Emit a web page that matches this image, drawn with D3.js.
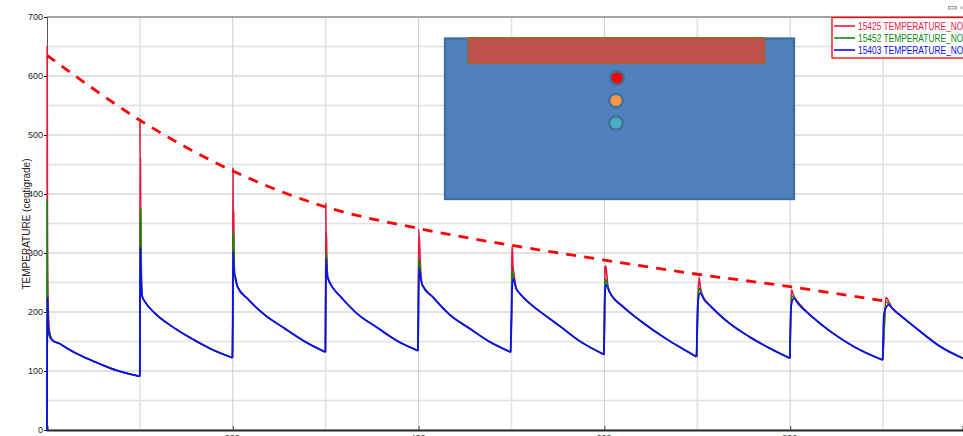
<!DOCTYPE html>
<html><head><meta charset="utf-8">
<script src="https://cdnjs.cloudflare.com/ajax/libs/d3/7.8.5/d3.min.js"></script>
<style>html,body{margin:0;padding:0;background:#fff;overflow:hidden}svg{display:block}text{font-family:"Liberation Sans",Arial,sans-serif}</style>
</head><body><svg id="c" width="963" height="436"></svg>
<script>
const xMajorTicks=[200,400,600,800];
const xMinorTicks=[100,300,500,700,900];
const yMajorTicks=[0,100,200,300,400,500,600,700];
const yMinorTicks=[50,150,250,350,450,550,650];
const seriesNames=["15425 TEMPERATURE_NODE","15452 TEMPERATURE_NODE","15403 TEMPERATURE_NODE"];
const seriesColors=["#e8173f","#0a8a12","#0a0aff"];
const dashedTrend=[[0,635],[100,525],[200,439],[300,378],[400,341.5],[500,313],[600,288],[700,264],[800,243],[900,219]];

// cooling tails, shared by the three nodes
const tails=[
 [[6,152],[14,146],[21,139],[39,124],[57,112],[75,101]],
 [[105.4,217.5],[116,198],[134,176],[155.6,155],[177,137]],
 [[216.5,221.5],[234.4,195],[256,172],[277.4,150]],
 [[309.7,237],[316,226],[334,197],[356,173],[377,151]],
 [[415.5,225],[433,196],[455,172],[476,150]],
 [[520,214],[540,190],[552,176],[573,151]],
 [[620,209],[638,186],[667,154],[685,137]],
 [[713,212],[734.4,181],[756,158],[778,138.5]],
 [[825,190],[845,165],[870,140]],
 [[918,195],[940,167],[961,142],[986,121.5]]
];
// heating spikes, one list per cycle and node
const spikes15425=[
 [[0,0],[0.2,650],[0.5,300],[1.5,200],[3,165]],
 [[99.9,91],[100.1,525],[100.2,460],[100.6,460],[100.9,375],[101.5,280],[102.6,226]],
 [[199.6,122.5],[199.9,240],[200.2,445],[200.4,370],[201,370],[201.3,300],[202.2,262],[205,243]],
 [[299.7,132],[300.1,385],[300.3,335],[300.9,335],[301.2,290],[302.5,257],[306,245]],
 [[399.3,134.5],[400.1,340],[401.5,300],[402,280],[404,246]],
 [[499,132],[500.1,200],[500.3,310],[501,310],[501.5,280],[503,262],[505,240],[508.6,232]],
 [[599.5,128],[600.3,200],[600.5,276],[601.5,278],[602.5,265],[604,240],[605.5,234]],
 [[699.2,124],[700.5,215],[701.9,259],[703.5,240],[707,224]],
 [[799.7,121.5],[800.3,180],[801.5,238],[803,230],[808,218]],
 [[899.5,118.6],[900.4,140],[903,225],[906,218],[910,206]]
];
const spikes15452=[
 [[0,0],[0.2,390],[0.5,240],[1.5,180],[3,162]],
 [[99.9,91],[100.2,375],[100.8,375],[101.2,280],[102.6,226]],
 [[199.6,122.5],[200,170],[200.3,335],[200.9,335],[201.4,275],[202.2,262],[205,243]],
 [[299.7,132],[300.2,300],[300.9,300],[301.4,270],[302.5,257],[306,245]],
 [[399.3,134.5],[400.2,290],[401.2,285],[402,262],[404,246]],
 [[499,132],[500.2,200],[500.4,272],[501.5,265],[503,252],[505,240],[508.6,232]],
 [[599.5,128],[600.3,200],[600.6,250],[601.5,255],[603,248],[605.5,234]],
 [[699.2,124],[700.5,190],[701.6,240],[703.5,236],[707,222]],
 [[799.7,121.5],[800.3,170],[801.5,226],[803.5,226],[808,216]],
 [[899.5,118.6],[900.4,150],[903.5,217],[906,214],[910,206]]
];
const spikes15403=[
 [[0,0],[0.2,130],[0.6,225],[1.2,175],[2.5,160]],
 [[99.9,91],[100.1,200],[100.5,310],[101,265],[101.6,240],[102.6,226]],
 [[199.6,122.5],[200.1,200],[200.5,302],[201.5,262],[202.2,262],[205,243]],
 [[299.7,132],[300,200],[300.5,290],[301.5,262],[302.5,257],[306,245]],
 [[399.3,134.5],[400,200],[400.5,274],[402,260],[404,246]],
 [[499,132],[500,200],[500.6,240],[501.8,257],[505,240],[508.6,232]],
 [[599.5,128],[600,200],[600.7,235],[602,246],[605.5,234]],
 [[699.2,124],[700,190],[701,222],[703,232],[707,222]],
 [[799.7,121.5],[800.3,180],[801,210],[804,223],[808,215]],
 [[899.5,118.6],[900.2,170],[901,198],[906,212],[910,206]]
];
// each cycle: its spike, its tail, and the low point that opens the next spike
const cycles=sp=>sp.map((s,i)=>s.concat(tails[i],sp[i+1]?[sp[i+1][0]]:[]));
const allSeries=[cycles(spikes15425),cycles(spikes15452),cycles(spikes15403)];

const W=963;
const x=d3.scaleLinear().domain([0,986]).range([47,963]);
const y=d3.scaleLinear().domain([0,700]).range([430,17]);
const svg=d3.select("#c");
const gridG=svg.append("g");
gridG.selectAll(".ymin").data(yMinorTicks).join("line").attr("x1",47).attr("x2",W).attr("y1",d=>y(d)).attr("y2",d=>y(d)).attr("stroke","#e0e0e0").attr("stroke-width",1.5);
gridG.selectAll(".ymaj").data(yMajorTicks).join("line").attr("x1",47).attr("x2",W).attr("y1",d=>y(d)).attr("y2",d=>y(d)).attr("stroke","#c6c6c6").attr("stroke-width",1);
gridG.selectAll(".xmin").data(xMinorTicks).join("line").attr("y1",17).attr("y2",430).attr("x1",d=>x(d)).attr("x2",d=>x(d)).attr("stroke","#e2e2e2").attr("stroke-width",1.6);
gridG.selectAll(".xmaj").data(xMajorTicks).join("line").attr("y1",17).attr("y2",430).attr("x1",d=>x(d)).attr("x2",d=>x(d)).attr("stroke","#cccccc").attr("stroke-width",1);

const yAxis=d3.axisLeft(y).tickValues(yMajorTicks).tickSize(3).tickPadding(1).tickFormat(d3.format("d"));
const xAxis=d3.axisBottom(x).tickValues(xMajorTicks).tickSize(-4).tickFormat(d3.format("d"));
const gy=svg.append("g").attr("transform","translate(47,0)").call(yAxis);
gy.selectAll("text").attr("font-size",9).attr("fill","#222");
gy.select(".domain").attr("stroke","#555");
const gx=svg.append("g").attr("transform","translate(0,430)").call(xAxis);
gx.selectAll("text").attr("font-size",9).attr("fill","#333").attr("x",-1).attr("y",10.5).attr("dy",0);
gx.selectAll(".tick line").attr("stroke","#444");
gx.select(".domain").attr("stroke","#2a2a2a").attr("stroke-width",2);
svg.append("line").attr("x1",47).attr("x2",W).attr("y1",17).attr("y2",17).attr("stroke","#666").attr("stroke-width",1);

svg.append("text").attr("transform","translate(30,224) rotate(-90)").attr("text-anchor","middle").attr("font-size",10).attr("fill","#222").text("TEMPERATURE (centigrade)");

const line=d3.line().x(d=>x(d[0])).y(d=>y(d[1])).curve(d3.curveMonotoneX);
allSeries.forEach((cs,i)=>{
  const g=svg.append("g").attr("fill","none").attr("stroke",seriesColors[i]).attr("stroke-width",i==2?1.7:1.6).attr("stroke-linejoin","round");
  g.selectAll("path").data(cs).join("path").attr("d",line);
});

const trendLine=d3.line().x(d=>x(d[0])).y(d=>y(d[1])).curve(d3.curveCatmullRom);
svg.append("path").datum(dashedTrend).attr("d",trendLine).attr("fill","none").attr("stroke","#ff0000").attr("stroke-width",2.8).attr("stroke-dasharray","10,8.2");

// inset diagram
const inset=svg.append("g");
inset.append("rect").attr("x",445).attr("y",38.5).attr("width",349).attr("height",160.5).attr("fill","#4f81bd").attr("stroke","#3f6f9f").attr("stroke-width",2.3);
inset.append("rect").attr("x",468.5).attr("y",38).attr("width",296).attr("height",25).attr("fill","#c0504d").attr("stroke","#a5622f").attr("stroke-width",2);
[[617,78,"#ff0000"],[616,100.5,"#f79646"],[616,123,"#4bacc6"]].forEach(c=>{
  inset.append("circle").attr("cx",c[0]).attr("cy",c[1]).attr("r",6.8).attr("fill",c[2]).attr("stroke","#41719c").attr("stroke-width",2.4);
});

// legend
const lg=svg.append("g");
lg.append("rect").attr("x",832).attr("y",17.5).attr("width",140).attr("height",40.5).attr("fill","#fff").attr("stroke","#ff0000").attr("stroke-width",1.3);
seriesNames.forEach((n,i)=>{
  const yy=26+i*12;
  lg.append("line").attr("x1",834).attr("x2",855).attr("y1",yy).attr("y2",yy).attr("stroke",seriesColors[i]).attr("stroke-width",1.6);
  lg.append("text").attr("x",858).attr("y",yy+3.5).attr("font-size",10).attr("fill",seriesColors[i]).attr("textLength",117).attr("lengthAdjust","spacingAndGlyphs").text(n);
});
// window glyph top right
svg.append("rect").attr("x",948.5).attr("y",6.5).attr("width",8).attr("height",2.5).attr("fill","#eee").attr("stroke","#888").attr("stroke-width",0.8);
svg.append("rect").attr("x",960).attr("y",6.5).attr("width",3).attr("height",2.5).attr("fill","#ccc");
</script></body></html>
